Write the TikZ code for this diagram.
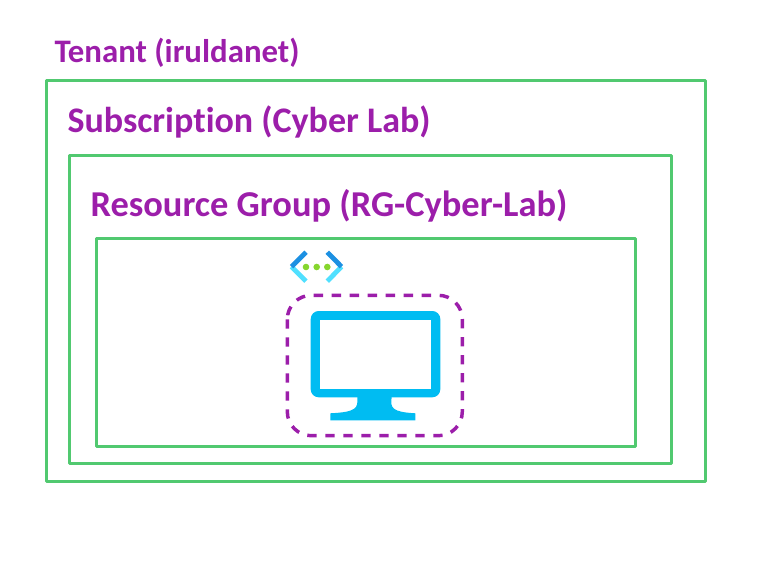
\documentclass[tikz,border=0pt]{standalone}
\usepackage{fontspec}
\setmainfont[Ligatures=NoCommon]{Carlito}
\definecolor{boxgreen}{RGB}{81,201,112}
\definecolor{labelpurple}{RGB}{156,30,170}
\definecolor{screenblue}{RGB}{0,188,242}
\definecolor{chevdark}{RGB}{28,144,226}
\definecolor{chevlight}{RGB}{80,224,255}
\definecolor{dotgreen}{RGB}{134,214,46}
\tikzset{every picture/.style={line width=0.75pt}}
\tikzset{
	scopebox/.style={draw=boxgreen,line width=2.25pt,line join=round},
	scopelabel/.style={anchor=base west,inner sep=0pt,text=labelpurple,font=\fontsize{24}{28}\selectfont},
	chev/.style={line width=3.6pt}
}
\newcommand{\fitlabel}[2]{\resizebox{#1}{!}{\textbf{#2}}}

\begin{document}
\begin{tikzpicture}[x=0.75pt,y=0.75pt,yscale=-1,xscale=1]
	\useasboundingbox (0,0) rectangle (760,570);

	%Scope boxes
	\draw [scopebox] (46,81) rectangle (705,481);
	\draw [scopebox] (69.5,155.5) rectangle (671.5,463);
	\draw [scopebox] (96.5,238.5) rectangle (635.5,446);

	%Dashed box round the VM
	\draw [draw=labelpurple,line width=2.6pt,dash pattern=on 7pt off 6.5pt,rounded corners=18pt] (287.3,295.3) rectangle (462.3,435.7);

	%Monitor
	\draw [draw=none,fill=screenblue,rounded corners=6pt] (310.7,311) rectangle (440.3,397.3);
	\draw [draw=none,fill=white] (320,319.7) rectangle (430.7,388.7);
	\fill [screenblue] (357.3,397) .. controls (358,408) and (357,412) .. (330.3,413.3) -- (330.3,420.3) -- (415.3,420.3) -- (415.3,413.3) .. controls (392,412) and (390,408) .. (391.7,397) -- cycle;

	%Network icon
	\draw [chev,chevlight] (291.5,266.7) -- (306,281.2);
	\draw [chev,chevdark] (306,252.2) -- (291.5,266.7);
	\draw [chev,chevlight] (341.5,266.7) -- (327.3,281.2);
	\draw [chev,chevdark] (327.3,252.2) -- (341.5,266.7);
	\fill [dotgreen] (306,267) circle (3.3);
	\fill [dotgreen] (316.7,267) circle (3.3);
	\fill [dotgreen] (327.3,267) circle (3.3);

	% Text Node
	\node [scopelabel] (tenant) at (54,63) {\fitlabel{183.75pt}{Tenant (iruldanet)}};
	% Text Node
	\node [scopelabel] (subscription) at (67,133) {\fitlabel{272.25pt}{Subscription (Cyber Lab)}};
	% Text Node
	\node [scopelabel] (resgroup) at (90,217) {\fitlabel{357.75pt}{Resource Group (RG-Cyber-Lab)}};

\end{tikzpicture}
\end{document}
